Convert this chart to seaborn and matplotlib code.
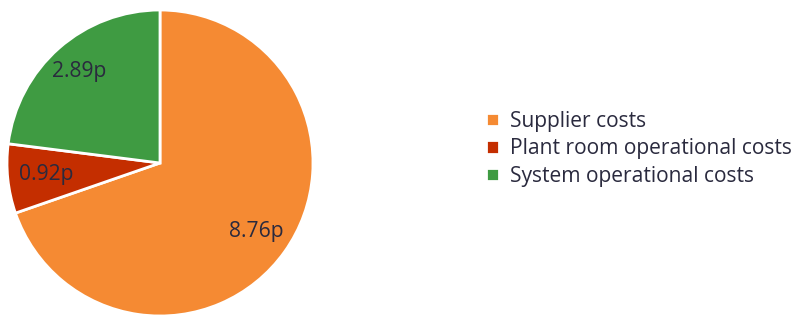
import matplotlib
matplotlib.use("Agg")
import matplotlib.pyplot as plt
import seaborn as sns
import numpy as np

categories = ["Supplier costs", "Plant room operational costs", "System operational costs"]
values = [8.76, 0.92, 2.89]
value_labels = ["8.76p", "0.92p", "2.89p"]
colors = ["#F58A33", "#C42E00", "#3F9B42"]

sns.set_theme(style="white")
plt.rcParams['font.family'] = ['Open Sans', 'DejaVu Sans']

W, H = 798, 316
fig = plt.figure(figsize=(W / 100, H / 100), dpi=100)
cx, cy, r = 160, 163, 153
ax = fig.add_axes([(cx - r) / W, (H - cy - r) / H, 2 * r / W, 2 * r / H])

wedges, _ = ax.pie(values, colors=sns.color_palette(colors), startangle=90, counterclock=False,
                   radius=1, wedgeprops=dict(edgecolor="white", linewidth=2))
ax.set_xlim(-1, 1)
ax.set_ylim(-1, 1)
ax.set_aspect("equal")
ax.axis("off")

text_color = "#2A2A3E"
label_radii = [0.77, 0.75, 0.80]
for w, lab, d in zip(wedges, value_labels, label_radii):
    mid = np.deg2rad((w.theta1 + w.theta2) / 2)
    ax.text(d * np.cos(mid), d * np.sin(mid), lab, ha="center", va="center",
            fontsize=15.2, color=text_color)

leg = fig.legend(wedges, categories, loc="upper left", bbox_to_anchor=(486 / W, 1 - 111 / H),
                 frameon=False, fontsize=15.1, handlelength=0.6, handleheight=0.6,
                 handletextpad=0.55, labelspacing=0.3, borderaxespad=0, borderpad=0)
for t in leg.get_texts():
    t.set_color(text_color)

fig.savefig("out.png", dpi=100)
